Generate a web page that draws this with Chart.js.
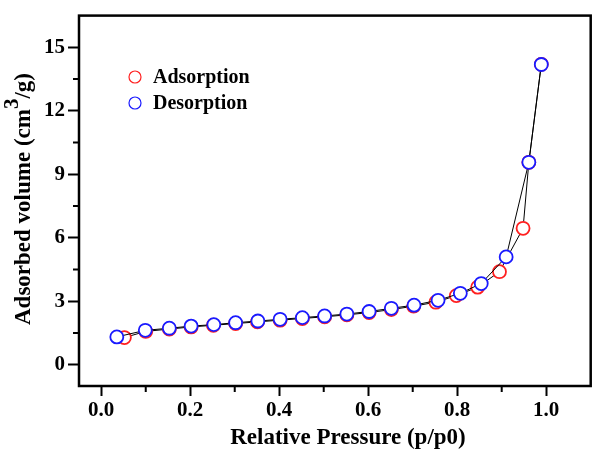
<!DOCTYPE html>
<html>
<head>
<meta charset="utf-8">
<script src="https://cdn.jsdelivr.net/npm/chart.js@4.4.1/dist/chart.umd.min.js"></script>
<style>
  body { margin: 0; background: #fff; }
  canvas { display: block; }
</style>
</head>
<body>
<canvas id="myChart" width="599" height="450"></canvas>
<script>
'use strict';

const adsPressure = [0.052, 0.100, 0.153, 0.202, 0.252, 0.302, 0.351, 0.402, 0.452, 0.502, 0.552,
    0.602, 0.652, 0.702, 0.752, 0.798, 0.846, 0.895, 0.948, 0.961, 0.989];
const adsVolume = [1.29, 1.58, 1.69, 1.79, 1.87, 1.95, 2.03, 2.11, 2.19, 2.27, 2.36,
    2.47, 2.61, 2.77, 2.96, 3.27, 3.67, 4.40, 6.45, 9.57, 14.2];
const desPressure = [0.989, 0.961, 0.910, 0.854, 0.807, 0.757, 0.703, 0.652, 0.602, 0.552,
    0.502, 0.452, 0.402, 0.352, 0.302, 0.253, 0.202, 0.153, 0.099, 0.035];
const desVolume = [14.19, 9.57, 5.10, 3.84, 3.38, 3.05, 2.82, 2.67, 2.52, 2.40,
    2.31, 2.23, 2.15, 2.07, 1.99, 1.90, 1.83, 1.73, 1.63, 1.32];

const xTickValues = [0, 0.1, 0.2, 0.3, 0.4, 0.5, 0.6, 0.7, 0.8, 0.9, 1.0];
const yTickValues = [0, 1.5, 3, 4.5, 6, 7.5, 9, 10.5, 12, 13.5, 15];
const seriesNames = ['Adsorption', 'Desorption'];
const seriesColors = ['#ff2020', '#1a1aff'];

const FONT = '"Liberation Serif", "Times New Roman", serif';

const isMajorX = v => Math.round(v * 10) % 2 === 0;
const isMajorY = v => Math.abs(v % 3) < 1e-6;

const framePlugin = {
    id: 'frame',
    afterDraw(chart) {
        const c = chart.ctx;
        const a = chart.chartArea;
        const xs = chart.scales.x;
        const ys = chart.scales.y;
        c.save();
        c.strokeStyle = '#000';

        // minor ticks
        c.lineWidth = 2;
        c.beginPath();
        xTickValues.filter(v => !isMajorX(v)).forEach(v => {
            const px = xs.getPixelForValue(v);
            c.moveTo(px, a.bottom);
            c.lineTo(px, a.bottom + 6);
        });
        yTickValues.filter(v => !isMajorY(v)).forEach(v => {
            const py = ys.getPixelForValue(v);
            c.moveTo(a.left, py);
            c.lineTo(a.left - 6, py);
        });
        c.stroke();

        // box
        c.lineWidth = 2.5;
        c.strokeRect(a.left, a.top, a.right - a.left, a.bottom - a.top);

        // x title
        c.fillStyle = '#000';
        c.font = 'bold 23px ' + FONT;
        c.textAlign = 'center';
        c.textBaseline = 'middle';
        c.fillText('Relative Pressure (p/p0)', 348, 438);

        // y title with superscript
        c.translate(24, 199);
        c.rotate(-Math.PI / 2);
        const p1 = 'Adsorbed volume (cm';
        const p2 = '3';
        const p3 = '/g)';
        c.font = 'bold 23px ' + FONT;
        const w1 = c.measureText(p1).width;
        const w3 = c.measureText(p3).width;
        c.font = 'bold 21px ' + FONT;
        const w2 = c.measureText(p2).width;
        const x0 = -(w1 + w2 + w3) / 2;
        c.textAlign = 'left';
        c.font = 'bold 23px ' + FONT;
        c.fillText(p1, x0, 0);
        c.font = 'bold 21px ' + FONT;
        c.fillText(p2, x0 + w1, -11);
        c.font = 'bold 23px ' + FONT;
        c.fillText(p3, x0 + w1 + w2, 0);
        c.restore();

        // legend
        c.save();
        c.font = 'bold 20px ' + FONT;
        c.textBaseline = 'middle';
        c.textAlign = 'left';
        seriesNames.forEach((name, i) => {
            const ly = 77 + i * 26;
            c.beginPath();
            c.arc(135, ly, 6, 0, Math.PI * 2);
            c.lineWidth = 1.2;
            c.strokeStyle = seriesColors[i];
            c.stroke();
            c.fillStyle = '#000';
            c.fillText(name, 153, ly + 1);
        });
        c.restore();
    }
};

const toPoints = (xs, ys) => xs.map((x, i) => ({ x: x, y: ys[i] }));

const ctx = document.getElementById('myChart').getContext('2d');
const myChart = new Chart(ctx, {
    type: 'scatter',
    data: {
        datasets: [{
            // drawn on top
            label: seriesNames[1],
            data: toPoints(desPressure, desVolume),
            showLine: true,
            borderColor: '#000',
            borderWidth: 1,
            pointBorderColor: seriesColors[1],
            pointBackgroundColor: '#fff',
            pointBorderWidth: 1.8,
            pointRadius: 6.5
        }, {
            label: seriesNames[0],
            data: toPoints(adsPressure, adsVolume),
            showLine: true,
            borderColor: '#000',
            borderWidth: 1,
            pointBorderColor: seriesColors[0],
            pointBackgroundColor: '#fff',
            pointBorderWidth: 1.8,
            pointRadius: 6.5
        }]
    },
    options: {
        responsive: false,
        animation: false,
        layout: { padding: { top: 3, right: 6, left: 0, bottom: 0 } },
        plugins: {
            legend: { display: false },
            tooltip: { enabled: false }
        },
        scales: {
            x: {
                type: 'linear',
                min: -0.05,
                max: 1.1,
                afterBuildTicks: s => { s.ticks = xTickValues.map(v => ({ value: v })); },
                afterFit: s => { s.height = 64; },
                border: { display: false },
                grid: {
                    drawOnChartArea: false,
                    tickLength: 10,
                    tickWidth: 2,
                    tickColor: c => (c.tick && isMajorX(c.tick.value) ? '#000' : 'rgba(0,0,0,0)')
                },
                ticks: {
                    autoSkip: false,
                    maxRotation: 0,
                    padding: 2,
                    color: '#000',
                    font: { family: FONT, size: 21, weight: 'bold' },
                    callback: v => (isMajorX(v) ? v.toFixed(1) : '')
                }
            },
            y: {
                type: 'linear',
                min: -1,
                max: 16.5,
                afterBuildTicks: s => { s.ticks = yTickValues.map(v => ({ value: v })); },
                afterFit: s => { s.width = 79; },
                border: { display: false },
                grid: {
                    drawOnChartArea: false,
                    tickLength: 11,
                    tickWidth: 2,
                    tickColor: c => (c.tick && isMajorY(c.tick.value) ? '#000' : 'rgba(0,0,0,0)')
                },
                ticks: {
                    autoSkip: false,
                    padding: 3,
                    color: '#000',
                    font: { family: FONT, size: 21, weight: 'bold' },
                    callback: v => (isMajorY(v) ? String(v) : '')
                }
            }
        }
    },
    plugins: [framePlugin]
});
</script>
</body>
</html>
